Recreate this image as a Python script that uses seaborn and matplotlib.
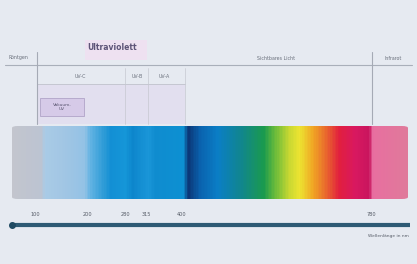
import numpy as np
import matplotlib.pyplot as plt
from matplotlib.colors import LinearSegmentedColormap
from matplotlib.patches import Rectangle, FancyBboxPatch
import seaborn as sns

# schematic x positions (px) of the colour stops along the band
stop_pos = [10, 40, 44, 62, 84, 90, 104, 110, 125, 132, 148, 155, 183, 188, 200,
            218, 242, 264, 276, 290, 300, 314, 328, 340, 356, 370, 374, 410]
stop_col = ["#c3c5cd", "#bcc4d2", "#a9cbe6", "#a2c6e4", "#93c2e5", "#60b2e2", "#2a9ad6",
            "#138fd4", "#1596d8", "#0d86cc", "#1a96d8", "#0f8ccf", "#0d90d2", "#0b3575",
            "#0a62ae", "#0a7ec6", "#11868c", "#1a9a4e", "#6cbc3a", "#c9d832", "#ece431",
            "#f0a424", "#e8622e", "#e21f3e", "#d81860", "#c9155e", "#e86fa0", "#df7a9a"]

# wavelength axis
tick_pos = [35, 87, 125, 146, 182, 371]
tick_lab = ["100", "200", "280", "315", "400", "780"]

# region labels
uv_sub = ["UV-C", "UV-B", "UV-A"]
uv_sub_pos = [80, 137, 164]
region_lab = ["Röntgen", "Sichtbares Licht", "Infrarot"]
region_pos = [18, 276, 393]

sns.set_theme(style="white")
plt.rcParams['font.family'] = ['DejaVu Sans']

fig = plt.figure(figsize=(4.17, 2.64), dpi=100)
fig.patch.set_facecolor("#e6eaf1")
ax = fig.add_axes([0, 0, 1, 1])
ax.set_xlim(0, 417)
ax.set_ylim(264, 0)
ax.axis("off")
ax.set_facecolor("#e6eaf1")

# spectrum band as a one-row heatmap
cmap = LinearSegmentedColormap.from_list(
    "spec", [((p - stop_pos[0]) / (stop_pos[-1] - stop_pos[0]), c) for p, c in zip(stop_pos, stop_col)])
w = stop_pos[-1] - stop_pos[0]
band_ax = fig.add_axes([stop_pos[0] / 417, 1 - 200 / 264, w / 417, 75 / 264])
sns.heatmap(np.linspace(0, 1, 400)[None, :], cmap=cmap, cbar=False, ax=band_ax,
            xticklabels=False, yticklabels=False, vmin=0, vmax=1)
band_ax.axis("off")
clip = FancyBboxPatch((0.004, 0.02), 0.992, 0.96, boxstyle="round,pad=0,rounding_size=0.015",
                      transform=band_ax.transAxes, fc="none", ec="none")
band_ax.add_patch(clip)
for im in band_ax.collections:
    im.set_clip_path(clip)

# UV shading
ax.add_patch(Rectangle((37, 84), 148, 40, color="#e0d8ee", alpha=0.6, lw=0))
ax.add_patch(Rectangle((85, 40), 62, 20, color="#efe0f2", alpha=0.9, lw=0))
ax.add_patch(Rectangle((40, 98), 44, 18, color="#d6cae8", lw=0.6, ec="#b0a4c8"))
ax.text(62, 107, "Vakuum-\nUV", fontsize=3.2, ha="center", va="center", color="#5a5570")

# lines
ax.plot([5, 412], [65, 65], color="#a9afba", lw=0.8)
ax.plot([37, 185], [84, 84], color="#c0c3cc", lw=0.6)
for x in [37, 372]:
    ax.plot([x, x], [52, 124], color="#a5aab5", lw=0.8)
for x in [125, 148, 185]:
    ax.plot([x, x], [68, 124], color="#c6c8d0", lw=0.5)

ax.text(112, 48, "Ultraviolett", fontsize=5.5, fontweight="bold", ha="center", va="center", color="#5e5478")
for lab, x in zip(region_lab, region_pos):
    ax.text(x, 58, lab, fontsize=3.4, ha="center", va="center", color="#6a707c")
for lab, x in zip(uv_sub, uv_sub_pos):
    ax.text(x, 77, lab, fontsize=3.4, ha="center", va="center", color="#6a707c")

# wavelength axis
ax.plot([10, 410], [225, 225], color="#2e5a74", lw=3, solid_capstyle="butt")
ax.plot([12], [225], "o", color="#1f4a62", ms=4)
for lab, x in zip(tick_lab, tick_pos):
    ax.text(x, 214, lab, fontsize=3.6, ha="center", va="center", color="#555b66")
ax.text(388, 236, "Wellenlänge in nm", fontsize=3.2, ha="center", va="center", color="#555b66")

fig.savefig("out.png", dpi=100, facecolor=fig.get_facecolor())
